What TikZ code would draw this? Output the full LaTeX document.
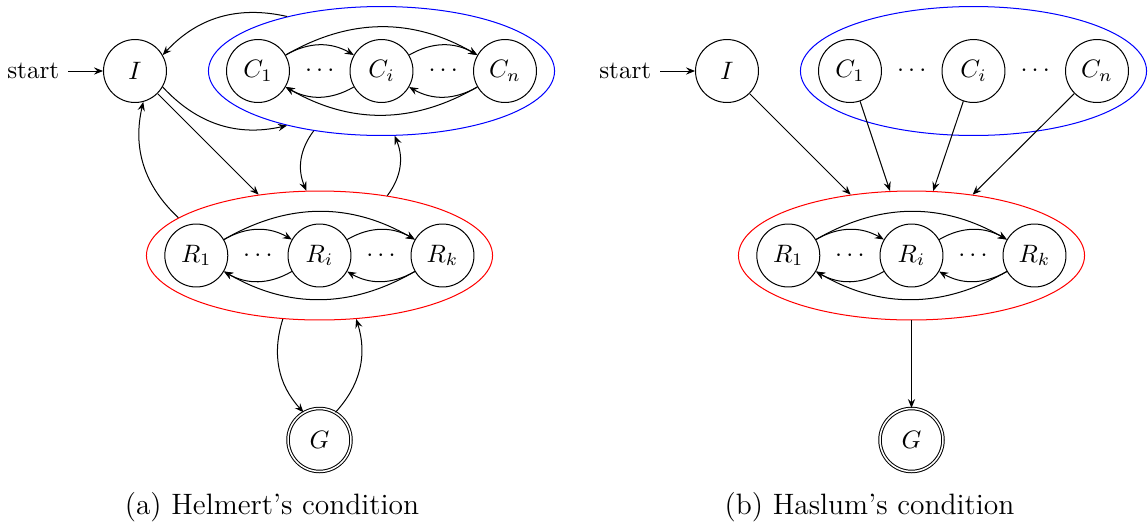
\documentclass[tikz,border=0pt]{standalone}
\usetikzlibrary{shapes.geometric,arrows.meta}
\begin{document}
\begin{tikzpicture}[x=0.397pt,y=-0.397pt,
  >={Stealth[length=3.6pt,width=2.9pt,inset=1.3pt]},
  every node/.style={font=\fontsize{10}{12}\selectfont},
  stnode/.style={circle,draw,minimum size=25pt,inner sep=0pt},
  goalnode/.style={stnode,double,double distance=0.6pt},
  cgroup/.style={ellipse,draw=blue,minimum width=137.4pt,minimum height=51.2pt,inner sep=0pt},
  rgroup/.style={ellipse,draw=red,minimum width=137.4pt,minimum height=51.2pt,inner sep=0pt},
  dotsnode/.style={inner sep=0pt},
  capnode/.style={anchor=base,font=\fontsize{11.7}{14}\selectfont}
]
\useasboundingbox (0,0) rectangle (1148,525);

% ---------- (a) Helmert's condition ----------
\node[cgroup] (aCs) at (381.5,71) {};
\node[rgroup] (aRs) at (319.5,255.5) {};
\node (ast) at (33.3,71) {start};
\node[stnode] (aI) at (135,71) {$I$};
\node[stnode] (aC1) at (258,71) {$C_1$};
\node[stnode] (aCi) at (381.5,71) {$C_i$};
\node[stnode] (aCn) at (505,71) {$C_n$};
\node[dotsnode] (aCd1) at (319.75,71) {$\cdots$};
\node[dotsnode] (aCd2) at (443.25,71) {$\cdots$};
\node[stnode] (aR1) at (196.3,255.5) {$R_1$};
\node[stnode] (aRi) at (319.5,255.5) {$R_i$};
\node[stnode] (aRk) at (442.5,255.5) {$R_k$};
\node[dotsnode] (aRd1) at (257.9,255.5) {$\cdots$};
\node[dotsnode] (aRd2) at (381,255.5) {$\cdots$};
\node[goalnode] (aG) at (319.5,440) {$G$};
\node[capnode] (acap) at (272,514) {(a) Helmert's condition};

\draw[->] (ast) -- (aI);
\path[->]
  (aC1) edge[bend left] (aCi)
        edge[bend left] (aCn)
  (aCi) edge[bend left] (aCn)
        edge[bend left] (aC1)
  (aCn) edge[bend left] (aCi)
        edge[bend left] (aC1)
  (aR1) edge[bend left] (aRi)
        edge[bend left] (aRk)
  (aRi) edge[bend left] (aRk)
        edge[bend left] (aR1)
  (aRk) edge[bend left] (aRi)
        edge[bend left] (aR1)
  (aCs) edge[bend right] (aI)
        edge[bend right] (aRs)
  (aI)  edge[bend right] (aCs)
        edge (aRs)
  (aRs) edge[bend left] (aI)
        edge[bend right] (aCs)
        edge[bend right] (aG)
  (aG)  edge[bend right] (aRs);

% ---------- (b) Haslum's condition ----------
\node[cgroup] (bCs) at (973.5,71) {};
\node[rgroup] (bRs) at (911.5,255.5) {};
\node (bst) at (625.3,71) {start};
\node[stnode] (bI) at (727,71) {$I$};
\node[stnode] (bC1) at (850,71) {$C_1$};
\node[stnode] (bCi) at (973.5,71) {$C_i$};
\node[stnode] (bCn) at (1097,71) {$C_n$};
\node[dotsnode] (bCd1) at (911.75,71) {$\cdots$};
\node[dotsnode] (bCd2) at (1035.25,71) {$\cdots$};
\node[stnode] (bR1) at (788.3,255.5) {$R_1$};
\node[stnode] (bRi) at (911.5,255.5) {$R_i$};
\node[stnode] (bRk) at (1034.5,255.5) {$R_k$};
\node[dotsnode] (bRd1) at (849.9,255.5) {$\cdots$};
\node[dotsnode] (bRd2) at (973,255.5) {$\cdots$};
\node[goalnode] (bG) at (911.5,440) {$G$};
\node[capnode] (bcap) at (869.5,514) {(b) Haslum's condition};

\draw[->] (bst) -- (bI);
\path[->]
  (bR1) edge[bend left] (bRi)
        edge[bend left] (bRk)
  (bRi) edge[bend left] (bRk)
        edge[bend left] (bR1)
  (bRk) edge[bend left] (bRi)
        edge[bend left] (bR1)
  (bI)  edge (bRs)
  (bC1) edge (bRs)
  (bCi) edge (bRs)
  (bCn) edge (bRs)
  (bRs) edge (bG);
\end{tikzpicture}
\end{document}
